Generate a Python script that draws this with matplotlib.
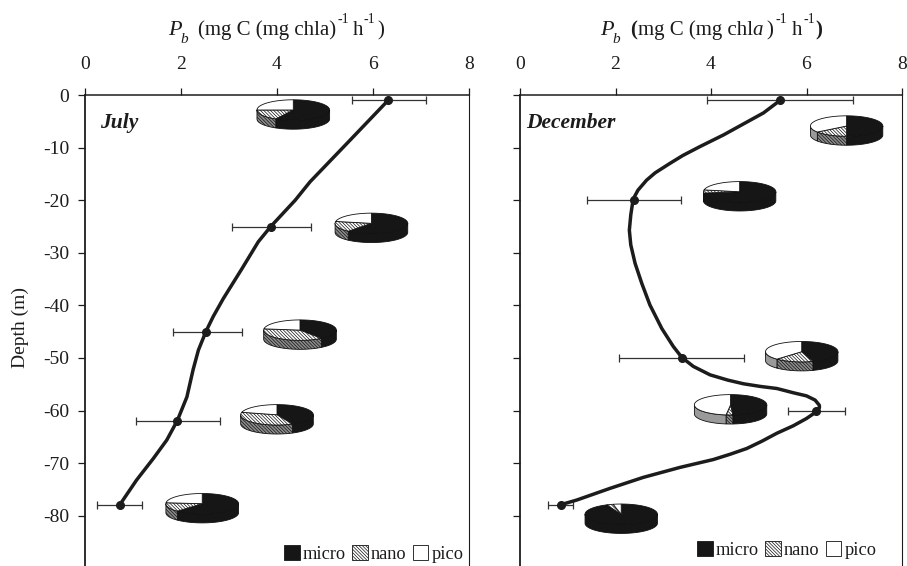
import numpy as np
import matplotlib
matplotlib.use("Agg")
import matplotlib.pyplot as plt
from matplotlib.patches import Polygon, Patch

W, H = 907, 566
plt.rcParams['font.family'] = ['Liberation Serif', 'DejaVu Serif']
plt.rcParams['hatch.linewidth'] = 0.5
INK = '#1c1c1c'

# --- data -----------------------------------------------------------------
x_ticks = [0, 2, 4, 6, 8]
depth_ticks = [0, -10, -20, -30, -40, -50, -60, -70, -80]
depth_tick_labels = ['0', '-10', '-20', '-30', '-40', '-50', '-60', '-70', '-80']

july_curve_x = [6.31, 5.46, 4.69, 4.38, 3.87, 3.61, 3.27, 2.88, 2.67, 2.52, 2.36, 2.25,
                2.12, 1.92, 1.70, 1.42, 1.07, 0.72]
july_curve_d = [-1.1, -9.2, -16.5, -20, -25, -27.9, -33, -38.7, -42.1, -44.9, -48.5, -52.2,
                -57.4, -61.9, -65.6, -69.1, -73.2, -77.9]
july_x = [6.31, 3.87, 2.52, 1.92, 0.72]
july_d = [-1, -25, -45, -62, -78]
july_lo = [5.56, 3.07, 1.82, 1.06, 0.25]
july_hi = [7.11, 4.71, 3.27, 2.81, 1.19]

dec_curve_x = [5.45, 5.10, 4.68, 4.26, 3.77, 3.41, 3.14, 2.83, 2.65, 2.47, 2.37, 2.32, 2.29,
               2.32, 2.41, 2.55, 2.72, 2.97, 3.21, 3.39, 3.63, 3.98, 4.35, 4.68, 5.03, 5.38,
               5.72, 6.00, 6.18, 6.27, 6.27, 6.21, 6.00, 5.72, 5.38, 5.07, 4.75, 4.40, 4.05,
               3.35, 2.58, 1.88, 1.19, 0.85]
dec_curve_d = [-1, -3.4, -5.5, -7.6, -9.8, -11.5, -13.0, -14.8, -16.2, -18.1, -19.8, -22.8, -25.7,
               -28.5, -32, -35.8, -39.9, -44.4, -47.8, -49.9, -51.6, -53.2, -54.2, -54.9, -55.4, -55.8,
               -56.6, -57.2, -58, -59, -59.5, -60.2, -61.5, -62.9, -64.3, -65.8, -67.2, -68.3, -69.3,
               -70.8, -72.7, -74.8, -77, -77.9]
dec_x = [5.45, 2.39, 3.39, 6.20, 0.85]
dec_d = [-1, -20, -50, -60, -78]
dec_lo = [3.91, 1.40, 2.08, 5.62, 0.59]
dec_hi = [6.97, 3.37, 4.70, 6.81, 1.12]

# pie centres (x value, depth) and shares in percent
july_pie_x = [4.34, 5.97, 4.48, 4.00, 2.44]
july_pie_d = [-2.85, -24.4, -44.7, -60.8, -77.7]
july_micro = [58, 61, 40, 43, 62]
july_nano = [17, 17, 37, 36, 14.5]
july_pico = [25, 22, 23, 21, 23.5]

dec_pie_x = [6.84, 4.60, 5.90, 4.41, 2.12]
dec_pie_d = [-5.9, -18.4, -48.8, -58.9, -79.7]
dec_micro = [50, 73, 45, 49, 93.4]
dec_nano = [15, 5, 17, 3, 3]
dec_pico = [35, 22, 38, 48, 3.6]

legend_labels = ['micro', 'nano', 'pico']

# --- helpers ---------------------------------------------------------------
fig = plt.figure(figsize=(W / 100, H / 100), dpi=100)
HATCH = '\\' * 10


def ftext(x, y, s, **kw):
    fig.text(x / W, 1 - y / H, s, color=INK, va='baseline', ha='left', **kw)


def arc(cx, cy, a, b, t0, t1, drop=0.0):
    t = np.radians(np.linspace(t0, t1, max(3, int(abs(t1 - t0)) + 2)))
    return np.column_stack([cx + a * np.sin(t), cy + b * np.cos(t) - drop])


def pie3d(ax, cx, cy, micro, nano, pico):
    a, b, h = 36.3 / 47.9, 10.2 / 5.26, 9.0 / 5.26
    total = micro + nano + pico
    limits = np.cumsum([0, micro, nano, pico]) * 360 / total
    sides = ['#161616', '#8c8c8c', '#9a9a9a']
    tops = ['#161616', 'white', 'white']
    hatches = [None, HATCH, None]
    z = 5
    for i in range(3):
        t0, t1 = max(limits[i], 90), min(limits[i + 1], 270)
        if t1 > t0:
            upper = arc(cx, cy, a, b, t0, t1)
            lower = arc(cx, cy, a, b, t1, t0, drop=h)
            ax.add_patch(Polygon(np.vstack([upper, lower]), closed=True, fc=sides[i],
                                 ec='#111111', lw=0.6, hatch=hatches[i], zorder=z))
    for i in range(3):
        pts = np.vstack([[[cx, cy]], arc(cx, cy, a, b, limits[i], limits[i + 1])])
        ax.add_patch(Polygon(pts, closed=True, fc=tops[i], ec='#111111', lw=0.6,
                             hatch=hatches[i], zorder=z + 1))


def panel(left_px, right_px, curve_x, curve_d, xs, ds, lo, hi, pies, show_y):
    bottom_d = -(H - 95) / 5.26
    ax = fig.add_axes([left_px / W, 0, (right_px - left_px) / W, (H - 95) / H])
    ax.set_xlim(0, 8)
    ax.set_ylim(bottom_d, 0)
    ax.xaxis.tick_top()
    ax.set_xticks(x_ticks)
    ax.set_yticks(depth_ticks)
    ax.set_yticklabels(depth_tick_labels if show_y else [])
    ax.tick_params(axis='x', length=5, width=0.9, pad=11, labelsize=14, colors=INK)
    ax.tick_params(axis='y', length=5, width=0.9, pad=6.5, labelsize=14, colors=INK)
    ax.spines['bottom'].set_visible(False)
    ax.spines['left'].set_linewidth(1.3)
    ax.spines['top'].set_linewidth(1.1)
    ax.spines['right'].set_linewidth(0.8)
    for s in ax.spines.values():
        s.set_color(INK)
    ax.plot(curve_x, curve_d, color=INK, lw=2.5, solid_joinstyle='round',
            solid_capstyle='round', zorder=3, clip_on=False)
    xerr = [np.array(xs) - np.array(lo), np.array(hi) - np.array(xs)]
    ax.errorbar(xs, ds, xerr=xerr, fmt='none', ecolor='#333333', elinewidth=0.9,
                capsize=3, capthick=0.9, zorder=2)
    ax.plot(xs, ds, 'o', color=INK, ms=5.5, zorder=4)
    for p in zip(*pies):
        pie3d(ax, *p)
    return ax


ax1 = panel(85.3, 468.7, july_curve_x, july_curve_d, july_x, july_d, july_lo, july_hi,
            (july_pie_x, july_pie_d, july_micro, july_nano, july_pico), True)
ax2 = panel(520, 902, dec_curve_x, dec_curve_d, dec_x, dec_d, dec_lo, dec_hi,
            (dec_pie_x, dec_pie_d, dec_micro, dec_nano, dec_pico), False)


def legend(ax, x_px, y_px):
    handles = [Patch(fc='#161616', ec='#161616', lw=0.6),
               Patch(fc='white', ec='#111111', lw=0.6, hatch=HATCH),
               Patch(fc='white', ec='#111111', lw=0.6)]
    ax.legend(handles, legend_labels, ncol=3, frameon=False, loc='lower left',
              bbox_to_anchor=(x_px / W, 1 - y_px / H), bbox_transform=fig.transFigure,
              fontsize=13.2, borderpad=0, borderaxespad=0, handlelength=0.86,
              handleheight=0.86, handletextpad=0.17, columnspacing=0.33, labelspacing=0,
              labelcolor=INK)


legend(ax1, 284, 563)
legend(ax2, 697, 559)

# --- titles and notes ------------------------------------------------------
ftext(100, 128, 'July', fontsize=15.5, style='italic', weight='bold')
ftext(526.5, 128, 'December', fontsize=15.5, style='italic', weight='bold')
fig.text(20 / W, 1 - 327 / H, 'Depth (m)', rotation=90, ha='center', va='center',
         fontsize=14, color=INK)

ftext(168, 35, 'P', fontsize=16, style='italic')
ftext(180, 43, 'b', fontsize=11, style='italic')
ftext(198, 35, '(mg C (mg chla)', fontsize=15)
ftext(338, 23, '-1', fontsize=10)
ftext(353, 35, 'h', fontsize=15)
ftext(363, 23, '-1', fontsize=10)
ftext(377, 35, ')', fontsize=15)

ftext(600, 35, 'P', fontsize=16, style='italic')
ftext(612.5, 43, 'b', fontsize=11, style='italic')
ftext(630, 35, '(', fontsize=15, weight='bold')
ftext(637.5, 35, 'mg C (mg chl', fontsize=15)
ftext(752, 35, 'a', fontsize=15, style='italic')
ftext(766, 35, ')', fontsize=15)
ftext(775, 23, '-1', fontsize=10)
ftext(791.5, 35, 'h', fontsize=15)
ftext(803, 23, '-1', fontsize=10)
ftext(815, 35, ')', fontsize=15, weight='bold')

fig.savefig('out.png', dpi=100)
